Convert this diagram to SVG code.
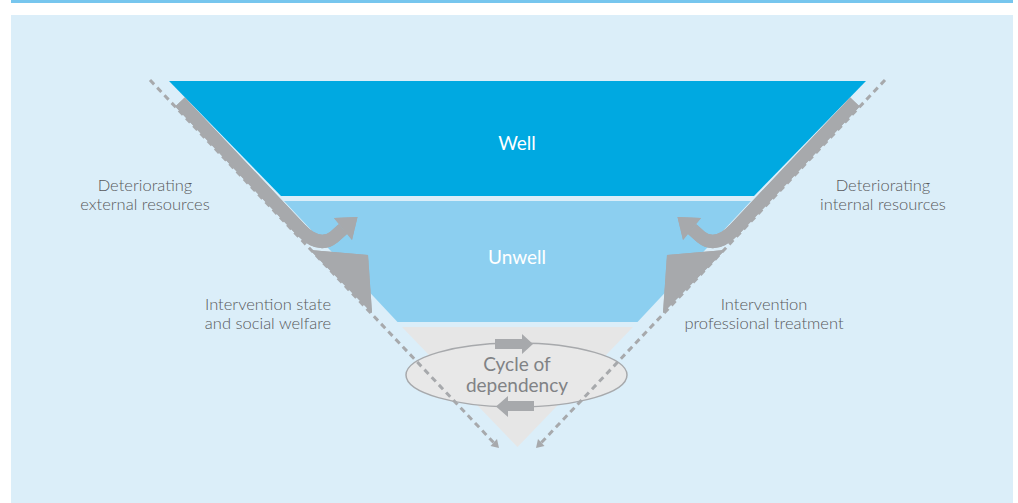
<svg xmlns="http://www.w3.org/2000/svg" width="1018" height="503" viewBox="0 0 1018 503">
<defs>
<style>
.lbl{font-family:Lato,"Open Sans","Liberation Sans",sans-serif;font-size:16.5px;font-weight:300;fill:#58595b;}
.lvl{font-family:Lato,"Open Sans","Liberation Sans",sans-serif;font-size:19px;fill:#ffffff;}
.cyc{font-family:Lato,"Open Sans","Liberation Sans",sans-serif;font-size:19px;fill:#808285;}
.band{fill:none;stroke:#a7a9ac;stroke-width:13;stroke-linejoin:round;}
.grey{fill:#a7a9ac;}
.dash{fill:none;stroke:#a7a9ac;stroke-width:3;stroke-dasharray:6 4.5;}
</style>
<g id="sideShapes">
<path class="band" d="M180,102 L300,229 Q319,249 334,237 L343,229"/>
<polygon class="grey" points="334,218 357.5,217 352,240"/>
<polygon class="grey" points="310,250 368,255 372,313"/>
</g>
</defs>
<rect x="0" y="0" width="1018" height="503" fill="#ffffff"/>
<rect x="11" y="0" width="1002" height="3" fill="#77c6ee"/>
<rect x="11" y="15" width="1002" height="488" fill="#dbeef9"/>

<g id="well">
<polygon points="169,81 866,81 754,196 281,196" fill="#00a9e1"/>
<text class="lvl" x="517" y="150" text-anchor="middle">Well</text>
</g>
<g id="unwell">
<polygon points="284,201 751,201 637.5,322 397.5,322" fill="#8ccff0"/>
<text class="lvl" x="517" y="264" text-anchor="middle">Unwell</text>
</g>
<g id="dependencyZone">
<polygon points="402,327 633,327 517.5,447" fill="#e6e6e6"/>
</g>

<g id="connectors">
<g id="leftSide">
<use href="#sideShapes"/>
</g>
<g id="rightSide" transform="translate(1035,0) scale(-1,1)">
<use href="#sideShapes"/>
</g>
</g>

<g id="cycle">
<ellipse cx="516.5" cy="375" rx="110.5" ry="32" fill="#e8e8e8" stroke="#a7a9ac" stroke-width="1.5"/>
<polygon class="grey" points="495,339 522,339 522,334 533,344 522,354 522,349 495,349"/>
<polygon class="grey" points="534,401 508,401 508,396 496,406.5 508,417 508,411 534,411"/>
<text class="cyc" x="517" y="371" text-anchor="middle">Cycle of</text>
<text class="cyc" x="517" y="392" text-anchor="middle">dependency</text>
</g>

<g id="dashedLines">
<path class="dash" d="M150,80 L494,443"/>
<polygon class="grey" points="499,448 490.5,446 497,439"/>
<path class="dash" d="M885,80 L541,443"/>
<polygon class="grey" points="536,448 544.5,446 538,439"/>
</g>
<g id="sideBandsOverDash">
<use href="#sideShapes"/>
<use href="#sideShapes" transform="translate(1035,0) scale(-1,1)"/>
</g>

<g id="labelExternal">
<text class="lbl" x="145" y="191" text-anchor="middle">Deteriorating</text>
<text class="lbl" x="145" y="210" text-anchor="middle">external resources</text>
</g>
<g id="labelInternal">
<text class="lbl" x="883" y="191" text-anchor="middle">Deteriorating</text>
<text class="lbl" x="883" y="210" text-anchor="middle">internal resources</text>
</g>
<g id="labelState">
<text class="lbl" x="268" y="310" text-anchor="middle">Intervention state</text>
<text class="lbl" x="268" y="329" text-anchor="middle">and social welfare</text>
</g>
<g id="labelProfessional">
<text class="lbl" x="764" y="310" text-anchor="middle">Intervention</text>
<text class="lbl" x="764" y="329" text-anchor="middle">professional treatment</text>
</g>
</svg>
